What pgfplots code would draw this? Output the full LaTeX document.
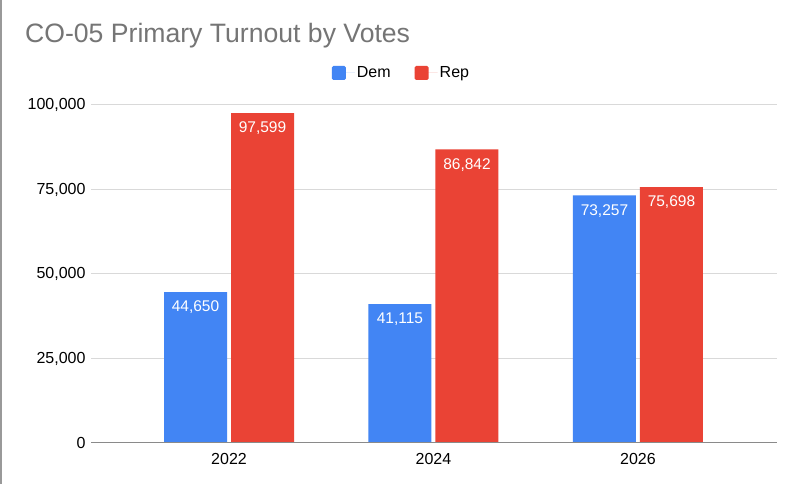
\documentclass[border=0pt]{standalone}
\usepackage{fontspec}
\setmainfont{Liberation Sans}
\usepackage{pgfplots}
\pgfplotsset{compat=1.18}
\definecolor{gblue}{HTML}{4285F4}
\definecolor{gred}{HTML}{EA4335}
\definecolor{titlegray}{HTML}{757575}
\definecolor{gridgray}{HTML}{D9D9D9}
\definecolor{axisgray}{HTML}{8A8A8A}
\begin{document}
\begin{tikzpicture}
\useasboundingbox (0,0) rectangle (798pt,484pt);
\fill[white] (0,0) rectangle (798pt,484pt);
\draw[color=gray!80, line width=1.5pt] (0.75pt,0) -- (0.75pt,484pt);
\node[anchor=base west, inner sep=0, text=titlegray, font=\fontsize{26.6}{30}\selectfont] at (25pt,441pt) {CO-05 Primary Turnout by Votes};
\begin{axis}[
  at={(91pt,41pt)}, anchor=south west,
  scale only axis, width=686pt, height=338pt,
  ybar=4pt, bar width=63pt,
  xmin=-0.675, xmax=2.68,
  ymin=0, ymax=100000,
  xtick={0,1,2}, xticklabels={2022,2024,2026},
  ytick={0,25000,50000,75000,100000},
  yticklabels={0,{25,000},{50,000},{75,000},{100,000}},
  scaled y ticks=false,
  axis line style={draw=none},
  major tick length=0pt,
  ymajorgrids, grid style={color=gridgray, line width=1pt},
  tick label style={font=\fontsize{16}{19}\selectfont},
  xticklabel style={yshift=-7pt},
  yticklabel style={xshift=-2pt},
  point meta=explicit symbolic,
  nodes near coords={\pgfplotspointmeta},
  every node near coord/.append style={anchor=north, yshift=-5.5pt, text=white, font=\fontsize{15.5}{18}\selectfont},
  legend columns=2,
  legend style={draw=none, at={(0.4526,1.0947)}, anchor=center, font=\fontsize{16}{19}\selectfont,
    /tikz/every even column/.append style={column sep=22pt}},
]
\addplot[fill=gblue, draw=none, legend image code/.code={\fill[gblue, rounded corners=1.5pt] (0pt,-7pt) rectangle (14pt,7pt); \path (0pt,0pt) -- (23pt,0pt);}] coordinates {(0,44650) [44,650] (1,41115) [41,115] (2,73257) [73,257]};
\addplot[fill=gred, draw=none, legend image code/.code={\fill[gred, rounded corners=1.5pt] (0pt,-7pt) rectangle (14pt,7pt); \path (0pt,0pt) -- (23pt,0pt);}] coordinates {(0,97599) [97,599] (1,86842) [86,842] (2,75698) [75,698]};
\legend{Dem,Rep}
\draw[color=axisgray, line width=2pt] (rel axis cs:0,0) -- (rel axis cs:1,0);
\end{axis}
\end{tikzpicture}
\end{document}
